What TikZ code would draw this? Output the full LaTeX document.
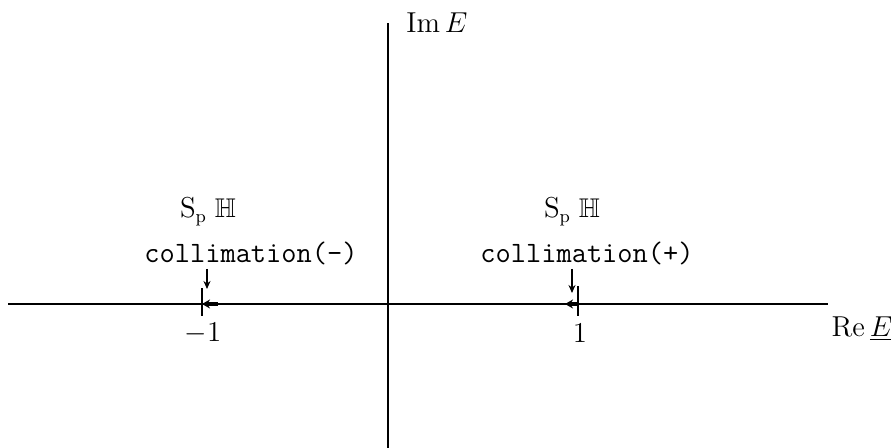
\documentclass[tikz,border=0pt]{standalone}
\usepackage{amssymb}
\usetikzlibrary{arrows.meta}

\begin{document}
\begin{tikzpicture}[
  x=0.5pt, y=-0.5pt,
  axis/.style={draw, line width=0.8pt},
  hand/.style={inner sep=0pt, font=\fontsize{13.5}{15}\selectfont},
  mono/.style={inner sep=0pt, font=\fontsize{14.8}{17}\selectfont\ttfamily},
  spec/.style={line width=1.6pt, -{Stealth[length=4pt,width=4.5pt]}},
  point/.style={-{Stealth[length=4pt,width=3.5pt]}, line width=0.8pt}
  ]
  \useasboundingbox (0,0) rectangle (891,448);

  % axes
  \coordinate (xl) at (8,304);
  \coordinate (xr) at (828,304);
  \coordinate (yt) at (388,23);
  \coordinate (yb) at (388,448);
  \draw[axis] (xl) -- (xr);
  \draw[axis] (yb) -- (yt);

  \node[hand] (imE) at (437,23) {$\mathrm{Im}\,E$};
  \node[hand] (reE) at (862,329) {$\mathrm{Re}\,\underline{E}$};

  % points -1 and 1
  \node[hand] (mone) at (203,333) {$-1$};
  \node[hand] (one) at (580,333) {$1$};
  \coordinate (m0) at (202,304);
  \coordinate (m1) at (218,304);
  \coordinate (p0) at (565,304);
  \coordinate (p1) at (578,304);
  \draw[spec] (m1) -- (m0);
  \draw[spec] (p1) -- (p0);
  \draw[line width=0.8pt] ([yshift=-6]m0) -- ([yshift=8]m0);
  \draw[line width=0.8pt] ([yshift=-6]p1) -- ([yshift=9]p1);

  % spectrum labels
  \node[hand] (spL) at (208,212) {$\mathrm{S}_{\mathrm{p}}\;\mathbb{H}$};
  \node[hand] (spR) at (572,212) {$\mathrm{S}_{\mathrm{p}}\;\mathbb{H}$};
  \node[mono] (colL) at (251,253) {collimation(-)};
  \node[mono] (colR) at (587,253) {collimation(+)};

  \coordinate (aL) at (207,289);
  \coordinate (aR) at (572,293);
  \draw[point] (colL.south -| aL) ++(0,4) -- (aL);
  \draw[point] (colR.south -| aR) ++(0,4) -- (aR);

\end{tikzpicture}
\end{document}
